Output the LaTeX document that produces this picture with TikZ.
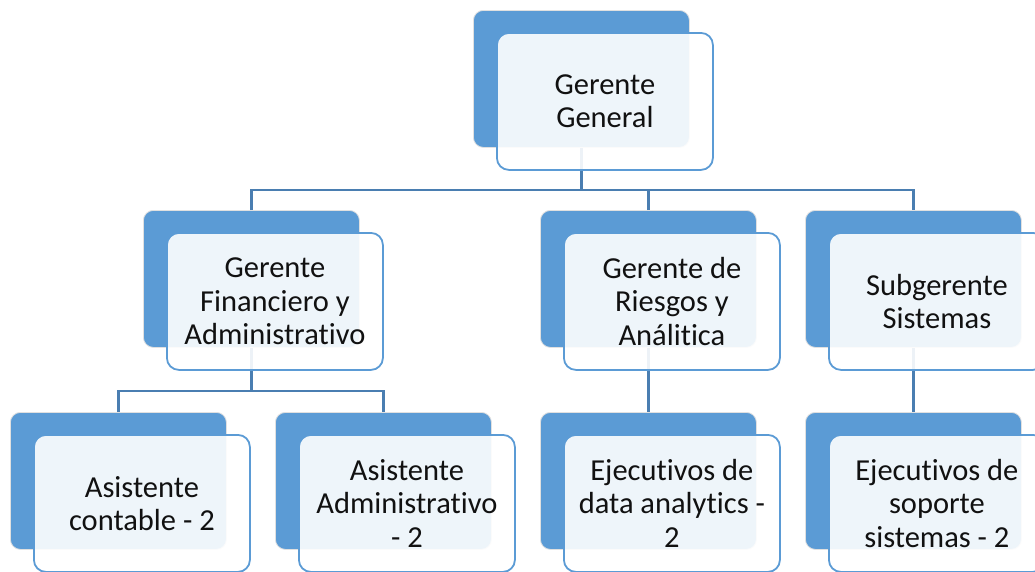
\documentclass[tikz,border=0pt]{standalone}
\usepackage{fontspec}
\setmainfont{Carlito}[RawFeature=-liga]
\usetikzlibrary{calc}
\definecolor{accent}{HTML}{5B9BD5}
\definecolor{connc}{HTML}{4A7EB1}
\definecolor{txt}{HTML}{111111}
\tikzset{
 backbox/.style={draw=black!12, line width=0.8pt, fill=accent, rounded corners=10pt, minimum width=216pt, minimum height=137pt, anchor=north west, inner sep=0pt},
 frontbox/.style={draw=accent, line width=1.8pt, fill=white, fill opacity=0.9, text opacity=1, rounded corners=12pt, minimum width=216pt, minimum height=137pt, inner sep=0pt, anchor=north west, align=center, font=\fontsize{30.5}{33.5}\selectfont, text=txt},
 conn/.style={draw=connc, line width=2.4pt}
}
\begin{document}
\begin{tikzpicture}[x=1pt,y=-1pt]
\useasboundingbox (0,0) rectangle (1035,571);
\clip (0,0) rectangle (1035,571);
\fill[white] (0,0) rectangle (1035,571);
% back boxes
\node[backbox] (b0) at (473,10) {};
\node[backbox] (b1) at (143,210) {};
\node[backbox] (b2) at (540,210) {};
\node[backbox] (b3) at (805,210) {};
\node[backbox] (b11) at (10,412) {};
\node[backbox] (b12) at (275,412) {};
\node[backbox] (b21) at (540,412) {};
\node[backbox] (b31) at (805,412) {};
\coordinate (bus1) at (0,190);
\coordinate (bus2) at (0,391);
% connectors
\draw[conn] (b0.south) -- (b0.south |- bus1);
\draw[conn] (b1.north) |- (b3.north |- bus1) -- (b3.north);
\draw[conn] (b2.north) -- (b2.north |- bus1);
\draw[conn] (b1.south) -- (b1.south |- bus2);
\draw[conn] (b11.north) |- (b12.north |- bus2) -- (b12.north);
\draw[conn] (b2.south) -- (b21.north);
\draw[conn] (b3.south) -- (b31.north);
% front boxes
\node[frontbox] (f0) at ($(b0.north west)+(23,22)$) {Gerente\\General};
\node[frontbox] (f1) at ($(b1.north west)+(23,22)$) {Gerente\\Financiero y\\Administrativo};
\node[frontbox] (f2) at ($(b2.north west)+(23,22)$) {Gerente de\\Riesgos y\\Análitica};
\node[frontbox] (f3) at ($(b3.north west)+(23,22)$) {Subgerente\\Sistemas};
\node[frontbox] (f11) at ($(b11.north west)+(23,22)$) {Asistente\\contable - 2};
\node[frontbox] (f12) at ($(b12.north west)+(23,22)$) {Asistente\\Administrativo\\- 2};
\node[frontbox] (f21) at ($(b21.north west)+(23,22)$) {Ejecutivos de\\data analytics -\\2};
\node[frontbox] (f31) at ($(b31.north west)+(23,22)$) {Ejecutivos de\\soporte\\sistemas - 2};
\end{tikzpicture}
\end{document}
